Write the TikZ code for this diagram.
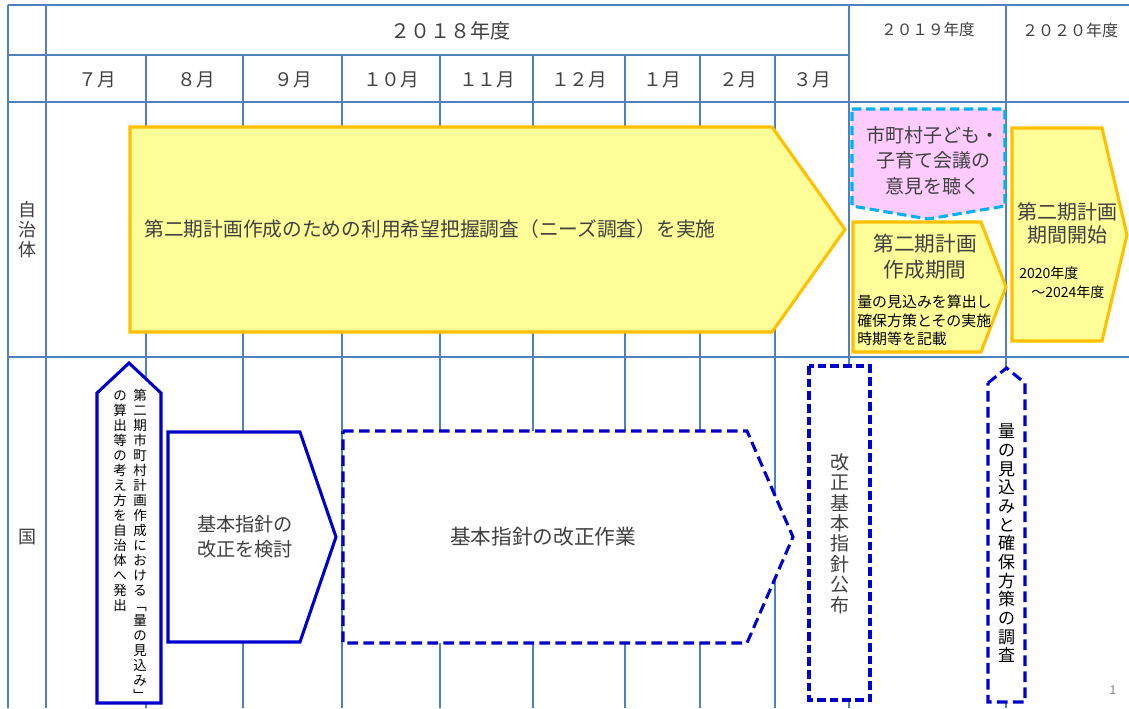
\documentclass[tikz,border=0pt]{standalone}
\usepackage{fontspec}
\setmainfont{Noto Sans CJK JP}
\definecolor{gridc}{HTML}{4F81BD}
\definecolor{yelfill}{HTML}{FFFF99}
\definecolor{yelline}{HTML}{FFC000}
\definecolor{pinkfill}{HTML}{FFCCFF}
\definecolor{cyanline}{HTML}{00B0F0}
\definecolor{blueline}{HTML}{0000CC}
\definecolor{txtgray}{HTML}{404040}
\makeatletter
\def\vtxt@end{\vtxt@end}
\def\vtxt#1{\vtxt@loop#1\vtxt@end}
\def\vtxt@loop#1{\ifx#1\vtxt@end\else\hbox to 1.1em{\hss#1\hss}\expandafter\vtxt@loop\fi}
\newcommand\vcol[2]{\vbox{\baselineskip=#1\lineskiplimit=-10pt\vtxt{#2}}}
\makeatother
\begin{document}
\begin{tikzpicture}[x=0.75pt,y=-0.75pt,
  gridline/.style={draw=gridc, line width=0.9pt},
  yelshape/.style={fill=yelfill, draw=yelline, line width=2.3pt, line join=miter},
  blueshape/.style={fill=white, draw=blueline, line width=2.3pt},
  bluedash/.style={blueshape, dash pattern=on 8pt off 4pt},
  rectdash/.style={fill=white, draw=blueline, line width=3pt, dash pattern=on 6.5pt off 3pt},
  pinkshape/.style={fill=pinkfill, draw=cyanline, line width=2.3pt, dash pattern=on 7pt off 3.5pt},
  lbl/.style={inner sep=0pt, text=txtgray},
  blk/.style={inner sep=0pt, text=black},
  hdr/.style={inner sep=0pt, text=txtgray}]
\fill[white] (0,0) rectangle (1129,708);
\useasboundingbox (0,0) rectangle (1129,708);
% grid
\draw[gridline] (8,5) -- (1129,5);
\draw[gridline] (8,55) -- (849,55);
\draw[gridline] (8,102) -- (1129,102);
\draw[gridline] (8,357) -- (1129,357);
\foreach \gx in {8,46,849,1006} {\draw[gridline] (\gx,5) -- (\gx,708);}
\foreach \gx in {146,243,342,440,533,625,700,775} {\draw[gridline] (\gx,55) -- (\gx,708);}
% headers
\node[hdr, font=\fontsize{15}{18}\selectfont] (y2018) at (450,31) {２０１８年度};
\node[hdr, font=\fontsize{11.7}{14}\selectfont] (y2019) at (928,30) {２０１９年度};
\node[hdr, font=\fontsize{12}{14}\selectfont] (y2020) at (1070,30) {２０２０年度};
\foreach \mx/\mt [count=\i] in {97/７月,196/８月,293/９月,391/１０月,487/１１月,579/１２月,662/１月,738/２月,812/３月}
  {\node[hdr, font=\fontsize{14}{16}\selectfont] (m\i) at (\mx,80) {\mt};}
% row labels
\node[lbl, font=\fontsize{13.5}{16}\selectfont] (rowa) at (27,230) {\vcol{15pt}{自治体}};
\node[lbl, font=\fontsize{13.5}{16}\selectfont] (rowb) at (27,537) {国};
% municipality row
\draw[yelshape] (130,127) -- (772,127) -- (845,229.5) -- (772,332) -- (130,332) -- cycle;
\node[lbl, font=\fontsize{14.8}{18}\selectfont] (needs) at (430,229) {第二期計画作成のための利用希望把握調査（ニーズ調査）を実施};
\draw[pinkshape] (852,109) -- (1005,109) -- (1005,206) -- (928,219) -- (852,206) -- cycle;
\node[lbl, align=center, font=\fontsize{14.25}{19}\selectfont] (council) at (933,160.5) {市町村子ども・\\子育て会議の\\意見を聴く};
\draw[yelshape] (853,222) -- (981,222) -- (1006,287) -- (981,352) -- (853,352) -- cycle;
\node[lbl, align=center, font=\fontsize{15.5}{20}\selectfont] (draft) at (925,256.5) {第二期計画\\作成期間};
\node[blk, anchor=west, align=left, font=\fontsize{11.2}{13.9}\selectfont] (draftnote) at (857,320.5) {量の見込みを算出し\\確保方策とその実施\\時期等を記載};
\draw[yelshape] (1012,128) -- (1102,128) -- (1127,235) -- (1102,341) -- (1012,341) -- cycle;
\node[lbl, align=center, font=\fontsize{15}{17.5}\selectfont] (start) at (1067,223.5) {第二期計画\\期間開始};
\node[blk, anchor=west, font=\fontsize{10.5}{12}\selectfont] (starta) at (1019,273) {2020年度};
\node[blk, anchor=west, font=\fontsize{10.5}{12}\selectfont] (startb) at (1031,292) {～2024年度};
% national row
\draw[blueshape] (97,393) -- (129,363) -- (161,393) -- (161,703) -- (97,703) -- cycle;
\node[blk, anchor=north, font=\fontsize{10.1}{12}\selectfont] (issueA) at (140,389) {\vcol{11.25pt}{第二期市町村計画作成における﹁量の見込み﹂}};
\node[blk, anchor=north, font=\fontsize{10.1}{12}\selectfont] (issueB) at (120,391) {\vcol{11.25pt}{の算出等の考え方を自治体へ発出}};
\draw[blueshape] (168,432) -- (300,432) -- (336,537) -- (300,642) -- (168,642) -- cycle;
\node[lbl, align=center, font=\fontsize{14.4}{18.75}\selectfont] (review) at (245,537) {基本指針の\\改正を検討};
\draw[bluedash] (343,431) -- (747,431) -- (793,537) -- (747,643) -- (343,643) -- cycle;
\node[lbl, font=\fontsize{15.5}{18}\selectfont] (revise) at (543,537) {基本指針の改正作業};
\draw[rectdash] (809,366) rectangle (870,700);
\node[lbl, font=\fontsize{14.25}{16}\selectfont] (publish) at (840,533.5) {\vcol{15.3pt}{改正基本指針公布}};
\draw[bluedash] (988,383) -- (1006.5,368) -- (1025,383) -- (1025,702) -- (988,702) -- cycle;
\node[blk, font=\fontsize{12.75}{14}\selectfont] (survey) at (1006.5,543.5) {\vcol{14pt}{量の見込みと確保方策の調査}};
\node[inner sep=0pt, text=gray, font=\fontsize{9}{10}\selectfont] (pageno) at (1113,690) {1};
\end{tikzpicture}
\end{document}
